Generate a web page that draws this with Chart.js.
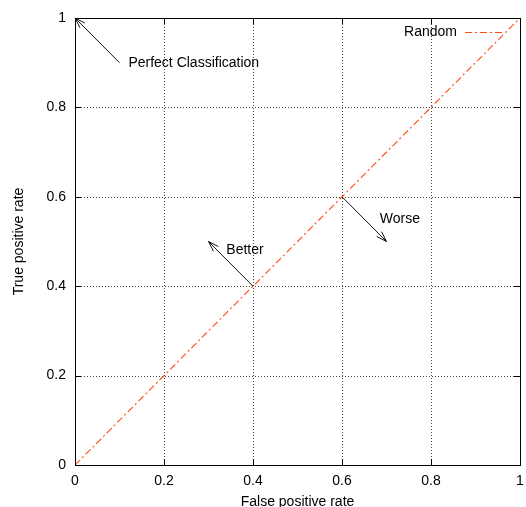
<!DOCTYPE html>
<html>
<head>
<meta charset="utf-8">
<script src="https://cdn.jsdelivr.net/npm/chart.js@4"></script>
<style>
  html, body { margin: 0; padding: 0; background: #fff; }
  #wrap { width: 526px; height: 507px; }
</style>
</head>
<body>
<div id="wrap"><canvas id="roc" width="526" height="507"></canvas></div>
<script>
// ROC space — diagonal "Random" line plus annotated arrows
const tickValues = [0, 0.2, 0.4, 0.6, 0.8, 1];
const randomX = [0, 1];
const randomY = [0, 1];

// arrows: from -> to, in data units
const arrowFrom = [[0.1, 0.9], [0.4, 0.4], [0.6, 0.6]];
const arrowTo   = [[0, 1],     [0.3, 0.5], [0.7, 0.5]];
const labelText = ['Perfect Classification', 'Better', 'Worse'];
const labelPos  = [[0.12, 0.9], [0.34, 0.48], [0.685, 0.55]];

const FONT = "'Liberation Sans', Arial, sans-serif";
const FSIZE = 14;
const LINE_COLOR = '#ff4a10';

// grid, inward ticks, arrows, labels and the key drawn with the scales
const ganchos = {
  id: 'ganchos',
  beforeDatasetsDraw(chart) {
    const { ctx, chartArea: a, scales: { x, y } } = chart;
    ctx.save();
    ctx.strokeStyle = '#444';
    ctx.lineWidth = 1;
    ctx.setLineDash([1, 2]);
    tickValues.slice(1, -1).forEach(v => {
      const px = Math.round(x.getPixelForValue(v)) + 0.5;
      const py = Math.round(y.getPixelForValue(v)) + 0.5;
      ctx.beginPath(); ctx.moveTo(px, a.top); ctx.lineTo(px, a.bottom); ctx.stroke();
      ctx.beginPath(); ctx.moveTo(a.left, py); ctx.lineTo(a.right, py); ctx.stroke();
    });
    ctx.restore();
  },
  afterDatasetsDraw(chart) {
    const { ctx, chartArea: a, scales: { x, y } } = chart;
    ctx.save();
    ctx.strokeStyle = '#000';
    ctx.lineWidth = 1;
    ctx.setLineDash([]);

    // caixa
    ctx.strokeRect(Math.round(a.left) + 0.5, Math.round(a.top) + 0.5,
      Math.round(a.right - a.left), Math.round(a.bottom - a.top));

    // ticks inward on all four sides
    const t = 6;
    tickValues.forEach(v => {
      const px = Math.round(x.getPixelForValue(v)) + 0.5;
      const py = Math.round(y.getPixelForValue(v)) + 0.5;
      ctx.beginPath();
      ctx.moveTo(px, a.bottom); ctx.lineTo(px, a.bottom - t);
      ctx.moveTo(px, a.top); ctx.lineTo(px, a.top + t);
      ctx.moveTo(a.left, py); ctx.lineTo(a.left + t, py);
      ctx.moveTo(a.right, py); ctx.lineTo(a.right - t, py);
      ctx.stroke();
    });

    // arrows
    ctx.strokeStyle = '#111';
    arrowFrom.forEach((f, i) => {
      const x0 = x.getPixelForValue(f[0]), y0 = y.getPixelForValue(f[1]);
      const x1 = x.getPixelForValue(arrowTo[i][0]), y1 = y.getPixelForValue(arrowTo[i][1]);
      const ang = Math.atan2(y1 - y0, x1 - x0);
      const head = 11, spread = Math.PI / 10;
      ctx.beginPath();
      ctx.moveTo(x0, y0); ctx.lineTo(x1, y1);
      ctx.moveTo(x1 - head * Math.cos(ang - spread), y1 - head * Math.sin(ang - spread));
      ctx.lineTo(x1, y1);
      ctx.lineTo(x1 - head * Math.cos(ang + spread), y1 - head * Math.sin(ang + spread));
      ctx.stroke();
    });

    // labels
    ctx.fillStyle = '#000';
    ctx.font = FSIZE + 'px ' + FONT;
    ctx.textBaseline = 'middle';
    ctx.textAlign = 'left';
    labelText.forEach((s, i) => {
      ctx.fillText(s, x.getPixelForValue(labelPos[i][0]), y.getPixelForValue(labelPos[i][1]));
    });

    // key
    const ky = Math.round(a.top + 14) + 0.5;
    ctx.textAlign = 'right';
    ctx.fillText('Random', a.right - 63, ky);
    ctx.strokeStyle = LINE_COLOR;
    ctx.setLineDash([7, 3, 2, 3]);
    ctx.beginPath(); ctx.moveTo(a.right - 55, ky); ctx.lineTo(a.right - 15, ky); ctx.stroke();
    ctx.restore();
  }
};

new Chart(document.getElementById('roc'), {
  type: 'scatter',
  data: {
    datasets: [{
      label: 'Random',
      data: randomX.map((v, i) => ({ x: v, y: randomY[i] })),
      showLine: true,
      borderColor: LINE_COLOR,
      borderWidth: 1.1,
      borderDash: [7, 3, 2, 3],
      pointRadius: 0,
      fill: false
    }]
  },
  options: {
    responsive: false,
    animation: false,
    layout: { padding: { left: 0, top: 18, right: 6, bottom: 0 } },
    plugins: { legend: { display: false }, tooltip: { enabled: false } },
    scales: {
      x: {
        type: 'linear', min: 0, max: 1,
        afterFit: s => { s.height = 42; s.paddingLeft = 0; s.paddingRight = 0; },
        afterBuildTicks: s => { s.ticks = tickValues.map(v => ({ value: v })); },
        grid: { display: false, drawTicks: false },
        border: { display: false },
        ticks: { color: '#000', font: { family: FONT, size: FSIZE }, padding: 8, maxRotation: 0,
                 callback: v => String(v) },
        title: { display: true, text: 'False positive rate', color: '#000',
                 font: { family: FONT, size: FSIZE, lineHeight: 0.7 }, padding: { top: 0, bottom: 0 } }
      },
      y: {
        type: 'linear', min: 0, max: 1,
        afterFit: s => { s.width = 75; s.paddingTop = 0; s.paddingBottom = 0; },
        afterBuildTicks: s => { s.ticks = tickValues.map(v => ({ value: v })); },
        grid: { display: false, drawTicks: false },
        border: { display: false },
        ticks: { color: '#000', font: { family: FONT, size: FSIZE }, padding: 9,
                 callback: v => String(v) },
        title: { display: true, text: 'True positive rate', color: '#000',
                 font: { family: FONT, size: FSIZE }, padding: { top: 11, bottom: 0 } }
      }
    }
  },
  plugins: [ganchos]
});
</script>
</body>
</html>
